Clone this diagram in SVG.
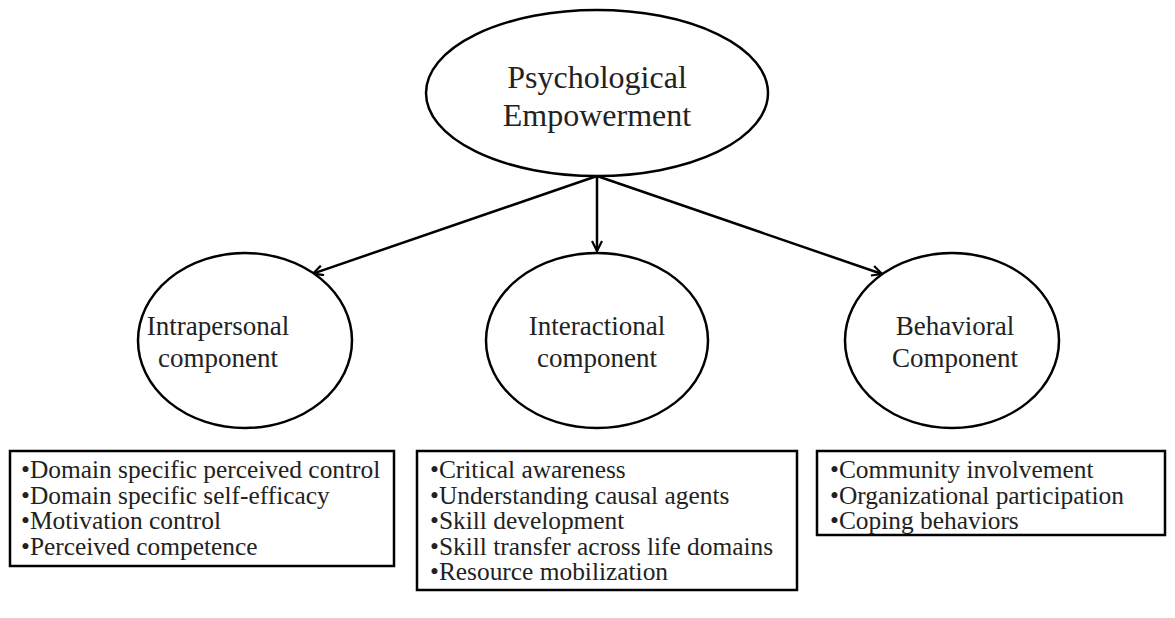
<svg xmlns="http://www.w3.org/2000/svg" width="1175" height="618" viewBox="0 0 1175 618">
<style>
.shape{fill:#fff;stroke:#000;stroke-width:2.5}
.t{font-family:"Liberation Serif","Times New Roman",serif;fill:#222}
.big{font-size:32px}
.mid{font-size:27px}
.lst{font-size:25.4px}
.conn{stroke:#000;stroke-width:2.5;fill:none}
</style>
<defs>
<marker id="arr" viewBox="0 0 12 12" refX="11" refY="6" markerWidth="12" markerHeight="12" markerUnits="userSpaceOnUse" orient="auto">
<path d="M1,1 L11,6 L1,11" fill="none" stroke="#000" stroke-width="2.2"/>
</marker>
</defs>
<rect width="1175" height="618" fill="#fff"/>
<g id="connectors">
<line class="conn" x1="597" y1="176" x2="597" y2="251" marker-end="url(#arr)"/>
<line class="conn" x1="597" y1="176" x2="313" y2="273.6" marker-end="url(#arr)"/>
<line class="conn" x1="597" y1="176" x2="882" y2="274" marker-end="url(#arr)"/>
</g>
<g id="psychological-empowerment">
<ellipse class="shape" cx="597" cy="93" rx="171" ry="83"/>
<text class="t big" x="597" y="88" text-anchor="middle">Psychological</text>
<text class="t big" x="597" y="126" text-anchor="middle">Empowerment</text>
</g>
<g id="intrapersonal">
<ellipse class="shape" cx="245" cy="340.5" rx="107" ry="87.5"/>
<text class="t mid" x="218" y="335" text-anchor="middle">Intrapersonal</text>
<text class="t mid" x="218" y="367" text-anchor="middle">component</text>
</g>
<g id="interactional">
<ellipse class="shape" cx="597" cy="340.5" rx="111" ry="87.5"/>
<text class="t mid" x="597" y="335" text-anchor="middle">Interactional</text>
<text class="t mid" x="597" y="367" text-anchor="middle">component</text>
</g>
<g id="behavioral">
<ellipse class="shape" cx="952" cy="340.5" rx="107" ry="87.5"/>
<text class="t mid" x="955" y="335" text-anchor="middle">Behavioral</text>
<text class="t mid" x="955" y="367" text-anchor="middle">Component</text>
</g>
<g id="intrapersonal-list">
<rect class="shape" x="10" y="451" width="384" height="115"/>
<text class="t lst" x="21" y="478">•Domain specific perceived control</text>
<text class="t lst" x="21" y="503.5">•Domain specific self-efficacy</text>
<text class="t lst" x="21" y="529">•Motivation control</text>
<text class="t lst" x="21" y="554.5">•Perceived competence</text>
</g>
<g id="interactional-list">
<rect class="shape" x="417" y="451" width="380" height="139"/>
<text class="t lst" x="430" y="478">•Critical awareness</text>
<text class="t lst" x="430" y="503.5">•Understanding causal agents</text>
<text class="t lst" x="430" y="529">•Skill development</text>
<text class="t lst" x="430" y="554.5">•Skill transfer across life domains</text>
<text class="t lst" x="430" y="580">•Resource mobilization</text>
</g>
<g id="behavioral-list">
<rect class="shape" x="817" y="451" width="348" height="84"/>
<text class="t lst" x="830" y="478">•Community involvement</text>
<text class="t lst" x="830" y="503.5">•Organizational participation</text>
<text class="t lst" x="830" y="529">•Coping behaviors</text>
</g>
</svg>
